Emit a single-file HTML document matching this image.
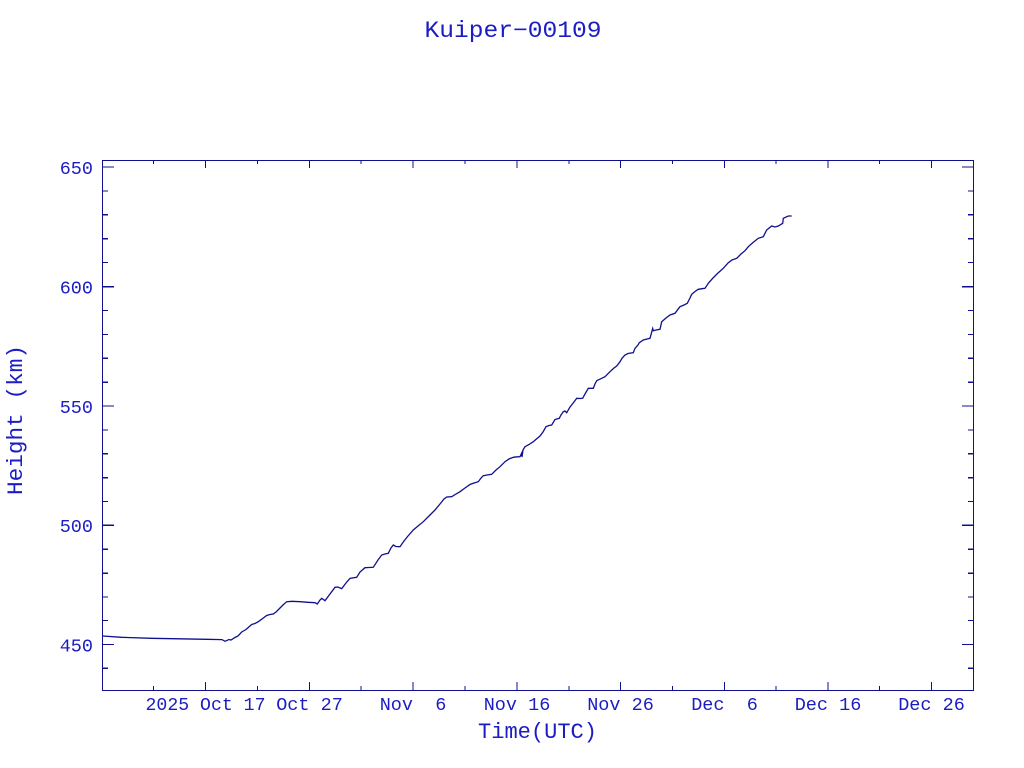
<!DOCTYPE html>
<html><head><meta charset="utf-8"><style>
html,body{margin:0;padding:0;background:#fff;width:1024px;height:768px;overflow:hidden}
svg{display:block}
</style></head><body>
<svg width="1024" height="768" viewBox="0 0 1024 768" xmlns="http://www.w3.org/2000/svg">
<rect x="0" y="0" width="1024" height="768" fill="#fff"/>
<text x="513" y="37" font-family="Liberation Mono, monospace" font-size="23" fill="#1c1cc4" text-anchor="middle" textLength="177" lengthAdjust="spacingAndGlyphs">Kuiper−00109</text>
<g stroke="#10108e" stroke-width="1.3" fill="none" shape-rendering="crispEdges">
<rect x="102.5" y="160.5" width="871" height="530"/>
<path d="
M102.5 167H114 M973.5 167H962
M102.5 286.7H114 M973.5 286.7H962
M102.5 406H114 M973.5 406H962
M102.5 525.3H114 M973.5 525.3H962
M102.5 644.5H114 M973.5 644.5H962
M102.5 191H108 M973.5 191H968
M102.5 214.7H108 M973.5 214.7H968
M102.5 238.6H108 M973.5 238.6H968
M102.5 262.5H108 M973.5 262.5H968
M102.5 310.5H108 M973.5 310.5H968
M102.5 334.4H108 M973.5 334.4H968
M102.5 358.3H108 M973.5 358.3H968
M102.5 382.1H108 M973.5 382.1H968
M102.5 429.9H108 M973.5 429.9H968
M102.5 453.7H108 M973.5 453.7H968
M102.5 477.6H108 M973.5 477.6H968
M102.5 501.5H108 M973.5 501.5H968
M102.5 549.2H108 M973.5 549.2H968
M102.5 573.1H108 M973.5 573.1H968
M102.5 597H108 M973.5 597H968
M102.5 620.5H108 M973.5 620.5H968
M102.5 668.3H108 M973.5 668.3H968
M205.5 690V682 M205.5 160V168
M309.5 690V682 M309.5 160V168
M413 690V682 M413 160V168
M517 690V682 M517 160V168
M620.5 690V682 M620.5 160V168
M724.5 690V682 M724.5 160V168
M828 690V682 M828 160V168
M931.5 690V682 M931.5 160V168
M153.5 690V686 M153.5 160V164
M257.5 690V686 M257.5 160V164
M361 690V686 M361 160V164
M465 690V686 M465 160V164
M569 690V686 M569 160V164
M672.5 690V686 M672.5 160V164
M776 690V686 M776 160V164
M879.5 690V686 M879.5 160V164
"/>
</g>
<polyline fill="none" stroke="#10108e" stroke-width="1.3" stroke-linejoin="miter" points="
102.7,636 121.7,637.3 151.7,638.3 206.7,639.3 222,639.6 225,641.3 229,639.5 231,640 235,637.5 238,636 241.7,632 246,629.5 251.7,624.5 255,623.5 258.3,621.7 262,619 266.7,615.5 270,614.5 273.3,614 276,612 280,608 283,605 286.7,601.7 292,601.3 300,601.7 308,602.3 315,602.7 317.3,604 320,600 321.7,598.3 325,600.7 330,594 335,587.3 338,587 341.7,588.7 346,583 350,578.3 356.7,577.3 360,572 365,567.7 369,567.5 373.3,567.3 378,560 381.7,555 385,554 388.3,553.3 391,548 393.3,545 396,546.5 400,546.7 404,541 408,536 413.3,530 418,526 423.3,521.7 428,517 432,513 435,510 440,504 444,499 446.7,497 451.7,496.7 456,494 460,491.7 465,488 470,484.5 474,483 478.3,481.7 481,478 483.3,475.7 487,475 491.7,474.3 496,470 500,466.7 505,461.7 509,459 513.3,457.3 517,456.8 520,456.7 521.7,453 522,457 523,450 525,446.7 529,444.5 533.3,441.7 537,438.5 540,436 543,432 546,426.7 549,425.5 551.7,425 555,419.5 559.3,418.3 561,415 563.3,411.7 565,411 566.7,412.7 570,407 574,402 576.7,398.3 580,398.5 582.7,398.3 585,394 588.3,388.3 593.3,388.3 595,384 596.7,380.7 601.7,378.3 605,376.7 610,371.7 614,368 616.7,366 620,361.7 622,358.3 625,355 628,353.5 633.3,352.7 635,348.3 638,345 639.3,342.7 643.3,340 647,339 650,338.3 652.7,328.5 653.3,330.7 656,330 660,329.3 661.7,321.7 666,318 670,315 675,313.3 680,306.7 684,305 687.3,303.3 690,298 691.7,294.3 695,291.5 698.3,289.3 702,288.7 705,288.3 708.3,283.3 713,278 718,273 723.3,268.3 728.3,262.7 732,260 736.7,258.3 741,254 745,250.7 748.3,246.7 753,242.5 758.3,238.3 763.3,236.7 766.7,230 771.7,226 775,227 778.3,226 782.7,223.3 783.3,218.3 788.3,216 791.7,216"/>
<g font-family="Liberation Mono, monospace" font-size="18.5" fill="#1c1cc4" text-anchor="end">
<text x="93" y="174">650</text>
<text x="93" y="293.5">600</text>
<text x="93" y="413">550</text>
<text x="93" y="532">500</text>
<text x="93" y="651.5">450</text>
</g>
<g font-family="Liberation Mono, monospace" font-size="18.5" fill="#1c1cc4" text-anchor="middle">
<text x="205.5" y="710" textLength="120" lengthAdjust="spacingAndGlyphs" xml:space="preserve">2025 Oct 17</text>
<text x="309.5" y="710" xml:space="preserve">Oct 27</text>
<text x="413" y="710" xml:space="preserve">Nov  6</text>
<text x="517" y="710" xml:space="preserve">Nov 16</text>
<text x="620.5" y="710" xml:space="preserve">Nov 26</text>
<text x="724.5" y="710" xml:space="preserve">Dec  6</text>
<text x="828" y="710" xml:space="preserve">Dec 16</text>
<text x="931.5" y="710" xml:space="preserve">Dec 26</text>
</g>
<text x="537.5" y="738" font-family="Liberation Mono, monospace" font-size="22" fill="#1c1cc4" text-anchor="middle" textLength="119" lengthAdjust="spacingAndGlyphs">Time(UTC)</text>
<text transform="translate(22,420) rotate(-90)" x="0" y="0" font-family="Liberation Mono, monospace" font-size="22" fill="#1c1cc4" text-anchor="middle" textLength="150" lengthAdjust="spacingAndGlyphs">Height (km)</text>
</svg>
</body></html>
